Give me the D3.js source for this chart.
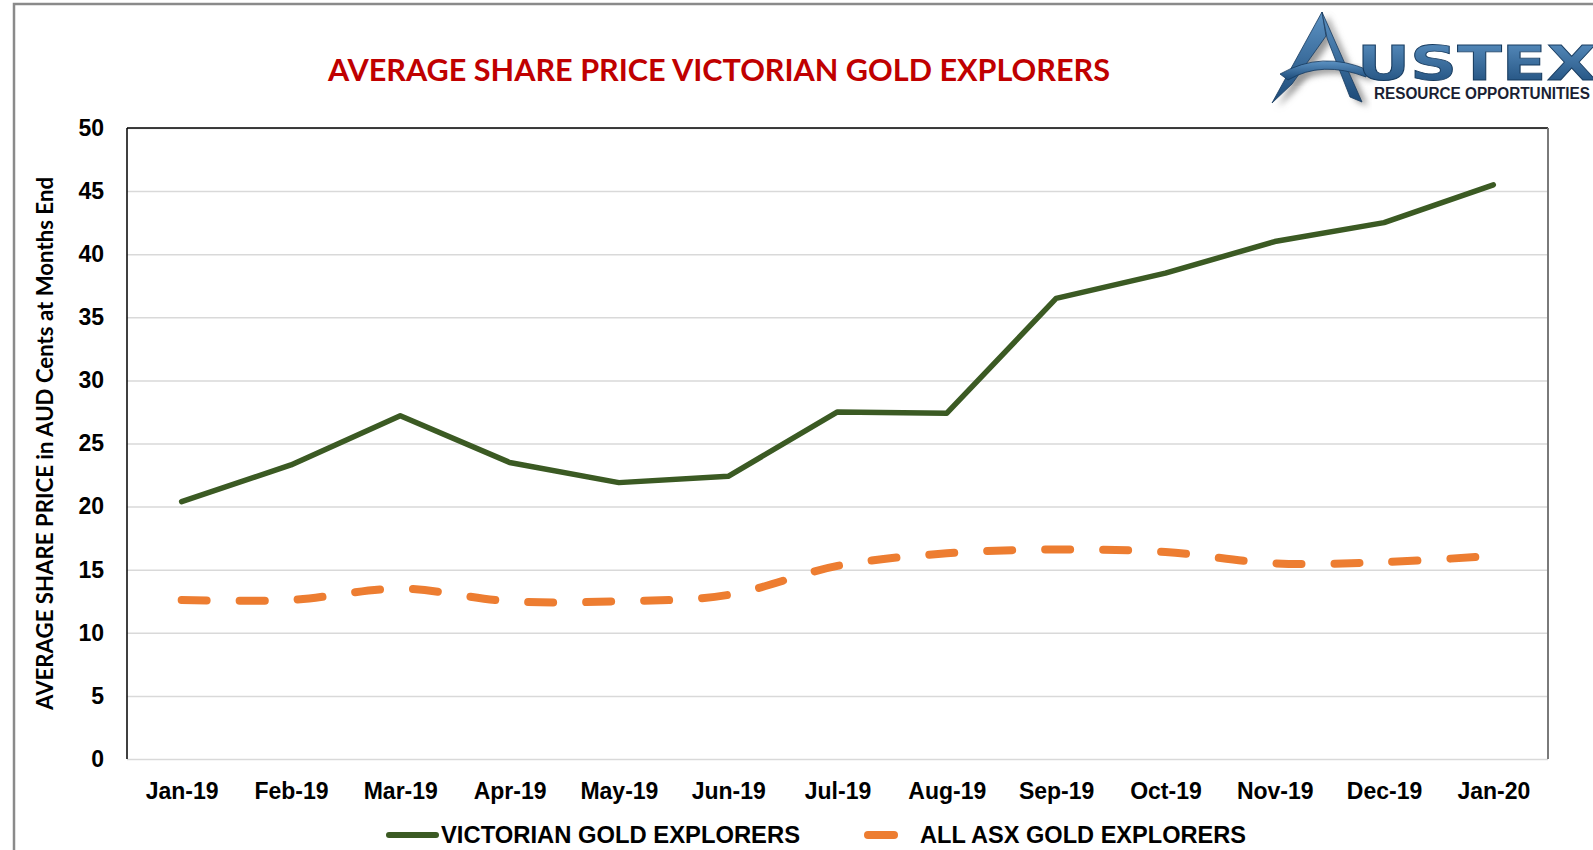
<!DOCTYPE html>
<html lang="en">

<head>
  <meta charset="UTF-8">
  <title>Average Share Price Victorian Gold Explorers</title>
  <script src="https://d3js.org/d3.v7.min.js"></script>
  <style>
    body { margin: 0; background: #fff; overflow: hidden; }
    svg { display: block; }
  </style>
</head>

<body>
  <svg width="1593" height="850"></svg>
</body>

<script>
  // data
  const months = ["Jan-19", "Feb-19", "Mar-19", "Apr-19", "May-19", "Jun-19", "Jul-19",
    "Aug-19", "Sep-19", "Oct-19", "Nov-19", "Dec-19", "Jan-20"];
  const victorian = [20.4, 23.3, 27.2, 23.5, 21.9, 22.4, 27.5, 27.4, 36.5, 38.5, 41.0, 42.5, 45.5];
  const allAsx = [12.6, 12.6, 13.5, 12.5, 12.5, 13.0, 15.3, 16.3, 16.6, 16.4, 15.5, 15.6, 16.1];
  const yTicks = [0, 5, 10, 15, 20, 25, 30, 35, 40, 45, 50];
  const seriesNames = ["VICTORIAN GOLD EXPLORERS", "ALL ASX GOLD EXPLORERS"];

  const svg = d3.select("svg");
  const width = +svg.attr("width");
  const height = +svg.attr("height");
  const margin = { left: 127, top: 128, right: 45, bottom: 91 };
  const innerWidth = width - margin.left - margin.right;
  const innerHeight = height - margin.top - margin.bottom;

  const green = "#3b5a23";
  const orange = "#ed7d31";

  // outer frame (only top + left visible)
  svg.append("path")
    .attr("d", "M14," + height + " L14,4 L" + width + ",4")
    .attr("fill", "none")
    .attr("stroke", "#8a8a8a")
    .attr("stroke-width", 2.5);

  /**
   * logo
   */
  const defs = svg.append("defs");
  const grad = defs.append("linearGradient").attr("id", "logoBlue")
    .attr("x1", 0).attr("y1", 0).attr("x2", 0).attr("y2", 1);
  grad.append("stop").attr("offset", "0%").attr("stop-color", "#5d93c4");
  grad.append("stop").attr("offset", "100%").attr("stop-color", "#1c4a78");
  defs.append("filter").attr("id", "shadow")
    .append("feGaussianBlur").attr("stdDeviation", 3);

  const logo = svg.append("g").attr("class", "logo");
  const aShapes = [
    "M1322,12 L1272,103 L1292,84 L1326,36 Z",
    "M1322,12 L1362,102 L1350,97 L1327,38 Z",
    "M1280,74 Q1322,50 1368,70 L1366,77 Q1322,60 1288,80 Z"
  ];
  logo.selectAll("path.shadow").data(aShapes).join("path")
    .attr("class", "shadow")
    .attr("d", d => d)
    .attr("transform", "translate(6,4)")
    .attr("fill", "#9a9a9a")
    .attr("filter", "url(#shadow)");
  logo.selectAll("path.shape").data(aShapes).join("path")
    .attr("class", "shape")
    .attr("d", d => d)
    .attr("fill", "url(#logoBlue)")
    .attr("stroke", "#163a5e")
    .attr("stroke-width", 0.8);
  logo.append("text")
    .attr("x", 1357).attr("y", 80)
    .attr("font-family", "'DejaVu Sans', sans-serif")
    .attr("font-weight", "bold")
    .attr("font-size", 48)
    .attr("textLength", 240)
    .attr("lengthAdjust", "spacingAndGlyphs")
    .attr("fill", "url(#logoBlue)")
    .attr("stroke", "#163a5e")
    .attr("stroke-width", 0.8)
    .text("USTEX");
  logo.append("text")
    .attr("x", 1374).attr("y", 99)
    .attr("font-family", "'Liberation Sans', Arial, sans-serif")
    .attr("font-weight", "bold")
    .attr("font-size", 16)
    .attr("textLength", 216)
    .attr("lengthAdjust", "spacingAndGlyphs")
    .attr("fill", "#1b1f33")
    .text("RESOURCE OPPORTUNITIES");

  // title
  svg.append("text")
    .attr("x", 719)
    .attr("y", 81)
    .attr("text-anchor", "middle")
    .attr("font-family", "Lato, 'Open Sans', sans-serif")
    .attr("font-weight", "bold")
    .attr("font-size", 31)
    .attr("textLength", 782)
    .attr("lengthAdjust", "spacingAndGlyphs")
    .attr("fill", "#c00000")
    .text("AVERAGE SHARE PRICE VICTORIAN GOLD EXPLORERS");

  const maingroup = svg.append("g")
    .attr("transform", "translate(" + margin.left + "," + margin.top + ")");

  /**
   *  x轴 + y轴
   */
  const xScale = d3.scalePoint()
    .domain(months)
    .range([0, innerWidth])
    .padding(0.5);

  const yScale = d3.scaleLinear()
    .domain([0, 50])
    .range([innerHeight, 0]);

  // gridlines
  maingroup.append("g")
    .attr("class", "grid")
    .call(d3.axisLeft(yScale).tickValues(yTicks).tickSize(-innerWidth).tickFormat(""))
    .call(g => g.select(".domain").remove())
    .call(g => g.selectAll("text").remove())
    .call(g => g.selectAll("line").attr("stroke", "#d9d9d9").attr("stroke-width", 1.5));

  // plot frame: black left/top, grey right
  maingroup.append("line")
    .attr("x1", 0).attr("x2", 0).attr("y1", 0).attr("y2", innerHeight)
    .attr("stroke", "#000").attr("stroke-width", 1.5);
  maingroup.append("line")
    .attr("x1", 0).attr("x2", innerWidth).attr("y1", 0).attr("y2", 0)
    .attr("stroke", "#000").attr("stroke-width", 1.5);
  maingroup.append("line")
    .attr("x1", innerWidth).attr("x2", innerWidth).attr("y1", 0).attr("y2", innerHeight)
    .attr("stroke", "#7a7a7a").attr("stroke-width", 2);

  maingroup.append("g")
    .attr("class", "yAxis")
    .call(d3.axisLeft(yScale).tickValues(yTicks).tickSize(0).tickPadding(23))
    .call(g => g.select(".domain").remove())
    .selectAll("text")
    .attr("font-family", "'Liberation Sans', Arial, sans-serif")
    .attr("font-weight", "bold")
    .attr("font-size", 23)
    .attr("fill", "#000");

  maingroup.append("g")
    .attr("class", "xAxis")
    .attr("transform", "translate(0," + innerHeight + ")")
    .call(d3.axisBottom(xScale).tickSize(0).tickPadding(24))
    .call(g => g.select(".domain").remove())
    .selectAll("text")
    .attr("font-family", "'Liberation Sans', Arial, sans-serif")
    .attr("font-weight", "bold")
    .attr("font-size", 23)
    .attr("fill", "#000");

  // y title
  maingroup.append("text")
    .attr("transform", "translate(-74," + innerHeight / 2 + ") rotate(-90)")
    .attr("text-anchor", "middle")
    .attr("font-family", "Lato, 'Open Sans', sans-serif")
    .attr("font-weight", "bold")
    .attr("font-size", 23)
    .attr("textLength", 533)
    .attr("lengthAdjust", "spacingAndGlyphs")
    .attr("fill", "#000")
    .text("AVERAGE SHARE PRICE in AUD Cents at Months End");

  /**
   * lines
   */
  const lineStraight = d3.line()
    .x((d, i) => xScale(months[i]))
    .y(d => yScale(d));

  const lineSmooth = d3.line()
    .x((d, i) => xScale(months[i]))
    .y(d => yScale(d))
    .curve(d3.curveCatmullRom.alpha(0));

  maingroup.append("path")
    .datum(allAsx)
    .attr("d", lineSmooth)
    .attr("fill", "none")
    .attr("stroke", orange)
    .attr("stroke-width", 8)
    .attr("stroke-linecap", "round")
    .attr("stroke-dasharray", "25,33");

  maingroup.append("path")
    .datum(victorian)
    .attr("d", lineStraight)
    .attr("fill", "none")
    .attr("stroke", green)
    .attr("stroke-width", 5.5)
    .attr("stroke-linejoin", "round")
    .attr("stroke-linecap", "round");

  /**
   * legend
   */
  const legend = svg.append("g").attr("class", "legend");
  const legendItems = [
    { name: seriesNames[0], color: green, x1: 389, x2: 436, w: 6, tx: 441, len: 359 },
    { name: seriesNames[1], color: orange, x1: 868, x2: 894, w: 8, tx: 920, len: 326 }
  ];
  legendItems.forEach(d => {
    legend.append("line")
      .attr("x1", d.x1).attr("x2", d.x2)
      .attr("y1", 835).attr("y2", 835)
      .attr("stroke", d.color)
      .attr("stroke-width", d.w)
      .attr("stroke-linecap", "round");
    legend.append("text")
      .attr("x", d.tx)
      .attr("y", 843)
      .attr("font-family", "'Liberation Sans', Arial, sans-serif")
      .attr("font-weight", "bold")
      .attr("font-size", 23)
      .attr("textLength", d.len)
      .attr("lengthAdjust", "spacingAndGlyphs")
      .attr("fill", "#000")
      .text(d.name);
  });
</script>

</html>
